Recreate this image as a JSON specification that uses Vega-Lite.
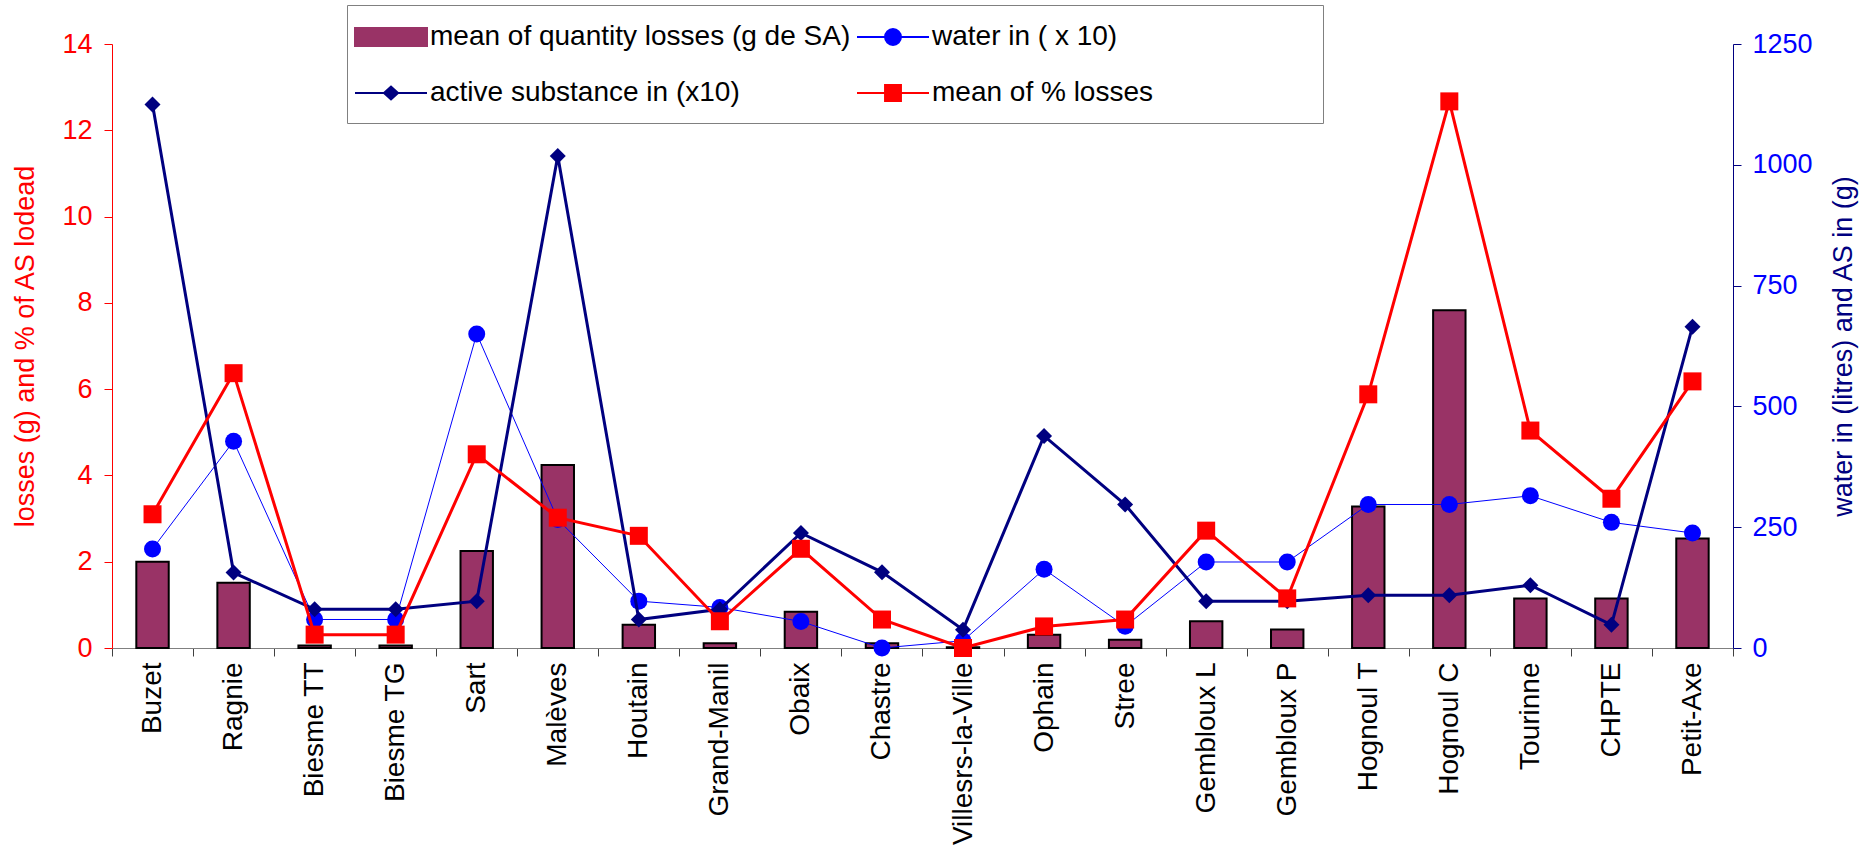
{
  "$schema": "https://vega.github.io/schema/vega-lite/v6.json",
  "width": 1621,
  "height": 604,
  "autosize": {"type": "none"},
  "padding": {"left": 112, "top": 44, "right": 131, "bottom": 206},
  "background": "white",
  "config": {
    "font": "Liberation Sans",
    "view": {"stroke": null},
    "axis": {"grid": false, "labelFont": "Liberation Sans", "titleFont": "Liberation Sans"},
    "legend": {"labelFont": "Liberation Sans"}
  },
  "data": {
    "values": [
      {"site": "Buzet", "loss_g": 2.0, "loss_pct": 3.1, "water": 205, "as": 1125},
      {"site": "Ragnie", "loss_g": 1.51, "loss_pct": 6.37, "water": 428, "as": 156},
      {"site": "Biesme TT", "loss_g": 0.06, "loss_pct": 0.31, "water": 59, "as": 80},
      {"site": "Biesme TG", "loss_g": 0.06, "loss_pct": 0.31, "water": 59, "as": 80},
      {"site": "Sart", "loss_g": 2.25, "loss_pct": 4.49, "water": 650, "as": 97},
      {"site": "Malèves", "loss_g": 4.24, "loss_pct": 3.02, "water": 266, "as": 1018},
      {"site": "Houtain", "loss_g": 0.54, "loss_pct": 2.6, "water": 97, "as": 59},
      {"site": "Grand-Manil", "loss_g": 0.11, "loss_pct": 0.62, "water": 84, "as": 80},
      {"site": "Obaix", "loss_g": 0.84, "loss_pct": 2.3, "water": 55, "as": 238},
      {"site": "Chastre", "loss_g": 0.11, "loss_pct": 0.66, "water": 0, "as": 157},
      {"site": "Villesrs-la-Ville", "loss_g": 0.02, "loss_pct": 0.0, "water": 15, "as": 38},
      {"site": "Ophain", "loss_g": 0.31, "loss_pct": 0.5, "water": 163, "as": 439},
      {"site": "Stree", "loss_g": 0.19, "loss_pct": 0.66, "water": 45, "as": 297},
      {"site": "Gembloux L", "loss_g": 0.62, "loss_pct": 2.72, "water": 178, "as": 97},
      {"site": "Gembloux P", "loss_g": 0.43, "loss_pct": 1.15, "water": 178, "as": 97},
      {"site": "Hognoul T", "loss_g": 3.28, "loss_pct": 5.88, "water": 297, "as": 109},
      {"site": "Hognoul C", "loss_g": 7.83, "loss_pct": 12.67, "water": 297, "as": 109},
      {"site": "Tourinne", "loss_g": 1.15, "loss_pct": 5.04, "water": 315, "as": 130},
      {"site": "CHPTE", "loss_g": 1.15, "loss_pct": 3.46, "water": 260, "as": 48},
      {"site": "Petit-Axe", "loss_g": 2.54, "loss_pct": 6.18, "water": 238, "as": 665}
    ]
  },
  "encoding": {
    "x": {
      "field": "site",
      "type": "nominal",
      "sort": null,
      "scale": {"type": "band", "paddingInner": 0, "paddingOuter": 0},
      "axis": {
        "title": null,
        "labelAngle": 270,
        "labelFontSize": 28,
        "labelColor": "black",
        "labelLimit": 1000,
        "labelPadding": 6,
        "tickBand": "extent",
        "tickSize": 8,
        "tickColor": "#404040",
        "domainColor": "#808080",
        "domainWidth": 1
      }
    }
  },
  "layer": [
    {
      "layer": [
        {
          "mark": {"type": "bar", "width": {"band": 0.4}, "stroke": "black", "strokeWidth": 2},
          "encoding": {
            "y": {
              "field": "loss_g",
              "type": "quantitative",
              "scale": {"domain": [0, 14], "nice": false, "zero": true},
              "axis": {
                "orient": "left",
                "values": [0, 2, 4, 6, 8, 10, 12, 14],
                "title": "losses (g) and % of AS lodead",
                "titleColor": "#FF0000",
                "titleFontSize": 27,
                "titleFontWeight": "normal",
                "titlePadding": 22,
                "labelColor": "#FF0000",
                "labelFontSize": 27,
                "labelPadding": 12,
                "domainColor": "#FF0000",
                "tickColor": "#FF0000",
                "tickSize": 8
              }
            },
            "color": {
              "datum": "mean of quantity losses (g de SA)",
              "type": "nominal",
              "scale": {
                "domain": ["mean of quantity losses (g de SA)", "water in ( x 10)", "active substance in (x10)", "mean of % losses"],
                "range": ["#993366", "#0000FF", "#000080", "#FF0000"]
              },
              "legend": {
                "orient": "none",
                "direction": "horizontal",
                "legendX": 235,
                "legendY": -39,
                "title": null,
                "columns": 2,
                "columnPadding": 2,
                "rowPadding": 26,
                "padding": 16,
                "symbolSize": 900,
                "symbolOffset": 12,
                "symbolStrokeWidth": 2,
                "symbolOpacity": 1,
                "labelFontSize": 28,
                "labelColor": "black",
                "labelLimit": 1000,
                "labelOffset": 23,
                "strokeColor": "#808080",
                "fillColor": "white",
                "labelExpr": "datum.value === 'mean of % losses' ? datum.label + '\u2003\u2003\u2003\u2003\u2003\u2002\u200b' : datum.label"
              }
            }
          }
        },
        {
          "mark": {"type": "point", "filled": true, "size": 0},
          "encoding": {
            "y": {"field": "loss_g", "type": "quantitative"},
            "color": {"datum": "mean of quantity losses (g de SA)", "type": "nominal"},
            "shape": {
              "datum": "mean of quantity losses (g de SA)",
              "type": "nominal",
              "scale": {
                "domain": ["mean of quantity losses (g de SA)", "water in ( x 10)", "active substance in (x10)", "mean of % losses"],
                "range": [
                  "M-2.4,-0.6L2.4,-0.6L2.4,0.6L-2.4,0.6Z",
                  "M-2.4,0L2.4,0M0.53,0A0.53,0.53,0,1,1,-0.53,0A0.53,0.53,0,1,1,0.53,0Z",
                  "M-2.4,0L2.4,0M-0.47,0L0,-0.42L0.47,0L0,0.42Z",
                  "M-2.4,0L2.4,0M-0.53,-0.53L0.53,-0.53L0.53,0.53L-0.53,0.53Z"
                ]
              },
              "legend": {
                "orient": "none",
                "direction": "horizontal",
                "legendX": 235,
                "legendY": -39,
                "title": null,
                "columns": 2,
                "columnPadding": 2,
                "rowPadding": 26,
                "padding": 16,
                "symbolSize": 900,
                "symbolOffset": 12,
                "symbolStrokeWidth": 2,
                "symbolOpacity": 1,
                "labelFontSize": 28,
                "labelColor": "black",
                "labelLimit": 1000,
                "labelOffset": 23,
                "strokeColor": "#808080",
                "fillColor": "white",
                "labelExpr": "datum.value === 'mean of % losses' ? datum.label + '\u2003\u2003\u2003\u2003\u2003\u2002\u200b' : datum.label"
              }
            }
          }
        }
      ]
    },
    {
      "layer": [
        {
          "mark": {"type": "line", "strokeWidth": 1, "point": {"filled": true, "shape": "circle", "size": 289}},
          "encoding": {
            "y": {
              "field": "water",
              "type": "quantitative",
              "scale": {"domain": [0, 1250], "nice": false, "zero": true},
              "axis": {
                "orient": "right",
                "values": [0, 250, 500, 750, 1000, 1250],
                "format": "d",
                "title": "water in (litres) and AS in (g)",
                "titleColor": "#000080",
                "titleFontSize": 27,
                "titleFontWeight": "normal",
                "titleAngle": 270,
                "titlePadding": 45,
                "labelColor": "#0000FF",
                "labelFontSize": 27,
                "labelPadding": 11,
                "domainColor": "#000080",
                "tickColor": "#000080",
                "tickSize": 8
              }
            },
            "color": {"datum": "water in ( x 10)", "type": "nominal"}
          }
        },
        {
          "mark": {"type": "line", "strokeWidth": 3, "point": {"filled": true, "shape": "diamond", "size": 256}},
          "encoding": {
            "y": {
              "field": "as",
              "type": "quantitative",
              "scale": {"domain": [0, 1250], "nice": false, "zero": true},
              "axis": {
                "orient": "right",
                "values": [0, 250, 500, 750, 1000, 1250],
                "format": "d",
                "title": "water in (litres) and AS in (g)",
                "titleColor": "#000080",
                "titleFontSize": 27,
                "titleFontWeight": "normal",
                "titleAngle": 270,
                "titlePadding": 45,
                "labelColor": "#0000FF",
                "labelFontSize": 27,
                "labelPadding": 11,
                "domainColor": "#000080",
                "tickColor": "#000080",
                "tickSize": 8
              }
            },
            "color": {"datum": "active substance in (x10)", "type": "nominal"}
          }
        }
      ]
    },
    {
      "layer": [
        {
          "mark": {"type": "line", "strokeWidth": 3, "point": {"filled": true, "shape": "square", "size": 324}},
          "encoding": {
            "y": {
              "field": "loss_pct",
              "type": "quantitative",
              "scale": {"domain": [0, 14], "nice": false, "zero": true},
              "axis": null
            },
            "color": {"datum": "mean of % losses", "type": "nominal"}
          }
        }
      ]
    }
  ],
  "resolve": {"scale": {"y": "independent"}}
}
